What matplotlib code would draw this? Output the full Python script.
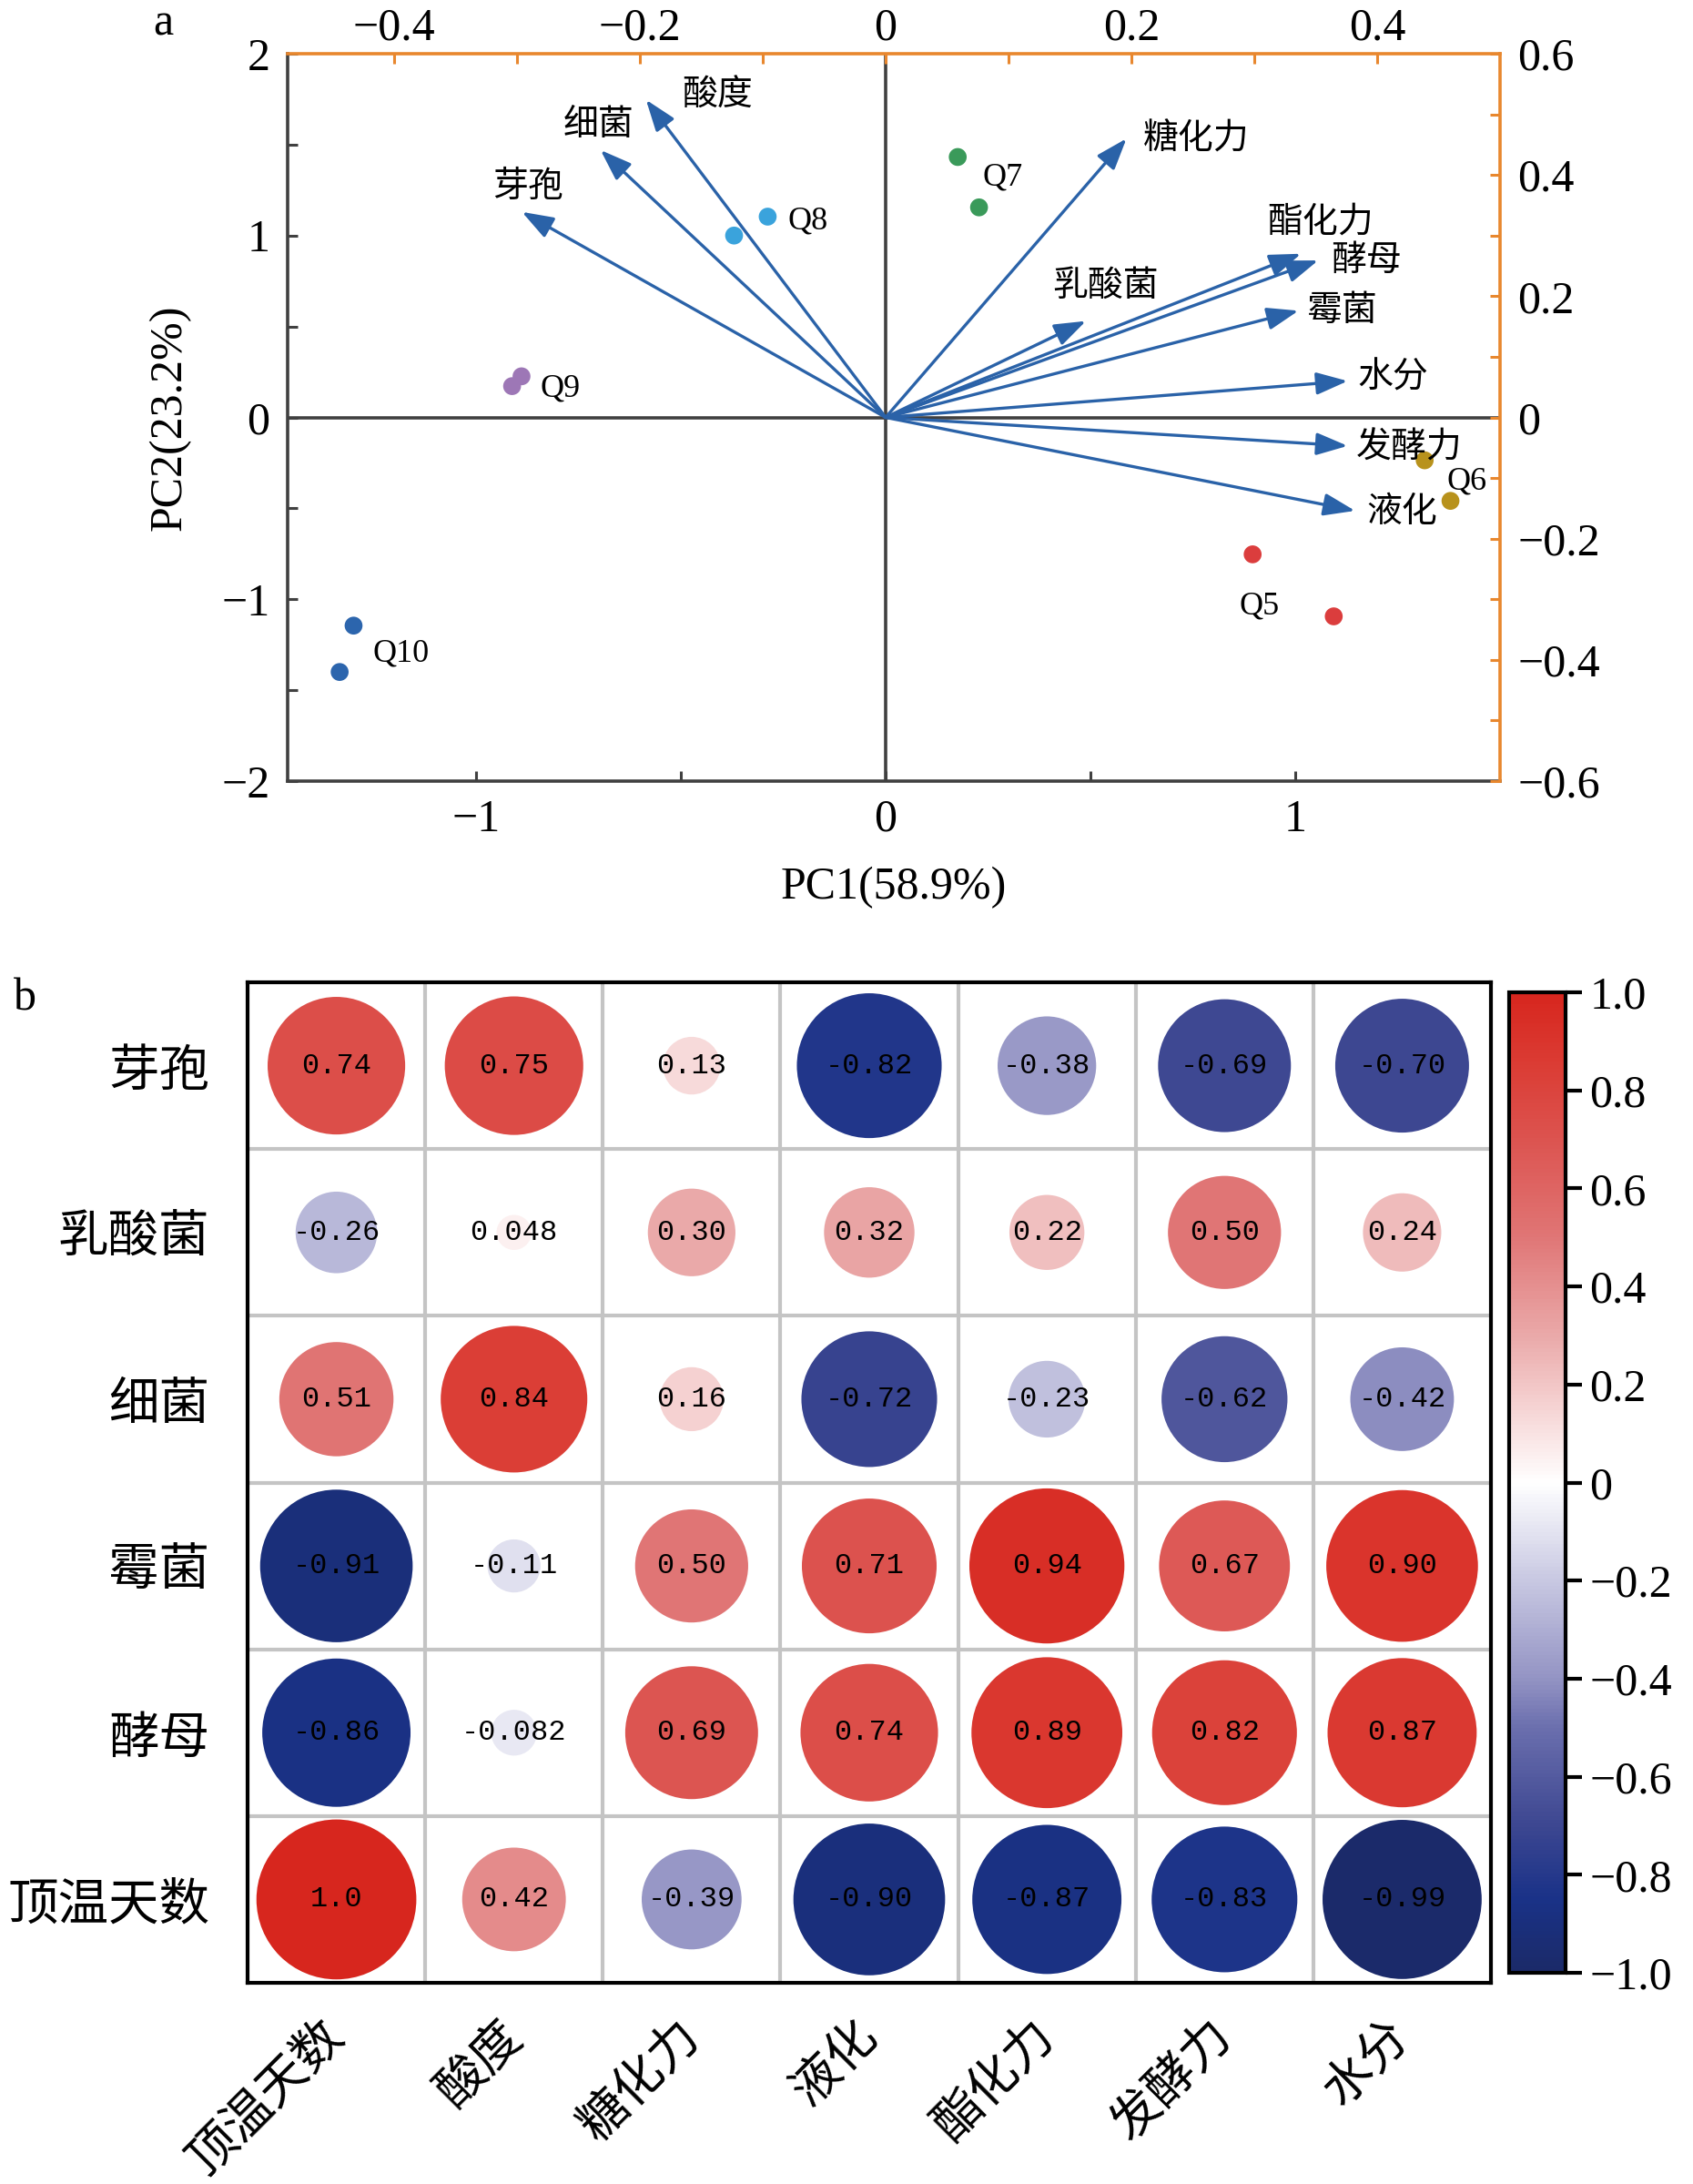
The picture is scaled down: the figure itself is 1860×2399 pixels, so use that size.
import matplotlib
matplotlib.use("Agg")
import matplotlib.pyplot as plt
import numpy as np
from matplotlib.colors import LinearSegmentedColormap

SERIF = ['Liberation Serif', 'Noto Sans CJK SC']
CJK = ['Noto Sans CJK SC', 'DejaVu Sans']
plt.rcParams['font.family'] = SERIF

# ---- panel a: PCA biplot data ----
samples = ['Q5', 'Q6', 'Q7', 'Q8', 'Q9', 'Q10']
sample_colors = ['#db3d3d', '#b8921c', '#3a9a5a', '#3aa3dc', '#9d77b6', '#2c65ad']
score_x = [[0.896, 1.094], [1.316, 1.379], [0.176, 0.228],
           [-0.370, -0.288], [-0.912, -0.889], [-1.299, -1.333]]
score_y = [[-0.753, -1.094], [-0.236, -0.459], [1.432, 1.155],
           [1.00, 1.104], [0.172, 0.226], [-1.145, -1.400]]
sample_label_x = [0.864, 1.370, 0.236, -0.238, -0.844, -1.252]
sample_label_y = [-1.04, -0.354, 1.32, 1.08, 0.16, -1.30]

variables = ['芽孢', '细菌', '酸度', '糖化力', '酯化力', '酵母', '乳酸菌', '霉菌', '水分', '发酵力', '液化']
load_x = [-0.296, -0.232, -0.195, 0.196, 0.338, 0.352, 0.163, 0.336, 0.376, 0.376, 0.382]
load_y = [0.339, 0.441, 0.524, 0.460, 0.270, 0.259, 0.159, 0.176, 0.060, -0.047, -0.154]
var_label_x = [-0.291, -0.234, -0.137, 0.253, 0.354, 0.391, 0.179, 0.372, 0.413, 0.426, 0.420]
var_label_y = [0.381, 0.483, 0.531, 0.459, 0.323, 0.259, 0.217, 0.176, 0.066, -0.049, -0.156]

# ---- panel b: correlation data ----
row_names = ['芽孢', '乳酸菌', '细菌', '霉菌', '酵母', '顶温天数']
col_names = ['顶温天数', '酸度', '糖化力', '液化', '酯化力', '发酵力', '水分']
corr = np.array([
    [0.74, 0.75, 0.13, -0.82, -0.38, -0.69, -0.70],
    [-0.26, 0.048, 0.30, 0.32, 0.22, 0.50, 0.24],
    [0.51, 0.84, 0.16, -0.72, -0.23, -0.62, -0.42],
    [-0.91, -0.11, 0.50, 0.71, 0.94, 0.67, 0.90],
    [-0.86, -0.082, 0.69, 0.74, 0.89, 0.82, 0.87],
    [1.0, 0.42, -0.39, -0.90, -0.87, -0.83, -0.99],
])

W, H = 1860, 2399
fig = plt.figure(figsize=(W / 100, H / 100), dpi=100)

GRAY = '#404040'
ORANGE = '#E8872E'
ARROW = '#2a62a8'

# main axes (scores, bottom/left)
rect_a = [316 / W, 1 - 858 / H, (1648 - 316) / W, (858 - 59) / H]
ax = fig.add_axes(rect_a)
ax.set_xlim(-1.46, 1.5)
ax.set_ylim(-2, 2)
ax.set_xticks([-1, 0, 1])
ax.set_xticks([-0.5, 0.5], minor=True)
ax.set_yticks([-2, -1, 0, 1, 2])
ax.set_yticks([-1.5, -0.5, 0.5, 1.5], minor=True)
ax.set_xticklabels(['\u22121', '0', '1'])
ax.set_yticklabels(['\u22122', '\u22121', '0', '1', '2'])
ax.tick_params(which='both', direction='in', length=8, width=2.2, color=GRAY,
               labelsize=36, top=False, right=False, pad=14)
for s in ['left', 'bottom']:
    ax.spines[s].set_color(GRAY)
    ax.spines[s].set_linewidth(2.6)
for s in ['top', 'right']:
    ax.spines[s].set_visible(False)
ax.axhline(0, color=GRAY, lw=2.6, zorder=1)
ax.axvline(0, color=GRAY, lw=2.6, zorder=1)
ax.set_xlabel('PC1(58.9%)', fontsize=36, labelpad=20)
ax.set_ylabel('PC2(23.2%)', fontsize=36, labelpad=24)

for i, name in enumerate(samples):
    ax.scatter(score_x[i], score_y[i], s=200, color=sample_colors[i], edgecolors='none', zorder=4)
    ax.text(sample_label_x[i], sample_label_y[i], name, fontsize=26, ha='left', va='center', zorder=5)

# loadings axes (top/right)
ax2 = fig.add_axes(rect_a, frameon=True)
ax2.patch.set_visible(False)
ax2.set_xlim(-1.46 / 3, 1.5 / 3)
ax2.set_ylim(-0.6, 0.6)
ax2.xaxis.tick_top()
ax2.yaxis.tick_right()
ax2.set_xticks([-0.4, -0.2, 0, 0.2, 0.4])
ax2.set_xticks([-0.3, -0.1, 0.1, 0.3], minor=True)
ax2.set_yticks([-0.6, -0.4, -0.2, 0, 0.2, 0.4, 0.6])
ax2.set_yticks([-0.5, -0.3, -0.1, 0.1, 0.3, 0.5], minor=True)
ax2.set_xticklabels(['\u22120.4', '\u22120.2', '0', '0.2', '0.4'])
ax2.set_yticklabels(['\u22120.6', '\u22120.4', '\u22120.2', '0', '0.2', '0.4', '0.6'])
ax2.tick_params(which='both', direction='in', length=8, width=2.2, color=ORANGE,
                labelsize=36, pad=14)
ax2.tick_params(axis='x', pad=3)
for s in ['left', 'bottom']:
    ax2.spines[s].set_visible(False)
for s in ['top', 'right']:
    ax2.spines[s].set_color(ORANGE)
    ax2.spines[s].set_linewidth(2.6)

for i, name in enumerate(variables):
    ax2.annotate('', xy=(load_x[i], load_y[i]), xytext=(0, 0),
                 arrowprops=dict(arrowstyle='-|>,head_length=0.7,head_width=0.25',
                                 mutation_scale=30, lw=2.4, color=ARROW,
                                 shrinkA=0, shrinkB=0), zorder=3)
    ax2.text(var_label_x[i], var_label_y[i], name, family=CJK, fontsize=28,
             ha='center', va='center', zorder=5)

fig.text(179 / W, 1 - 26 / H, 'a', fontsize=36, ha='center', va='center')
fig.text(27 / W, 1 - 1097 / H, 'b', fontsize=36, ha='center', va='center')

# ---- panel b ----
cmap = LinearSegmentedColormap.from_list('corr', [
    (0.0, '#1b2a68'), (0.075, '#1a3288'), (0.15, '#3d4791'), (0.25, '#6b6fae'),
    (0.3, '#9494c4'), (0.4, '#c8c8e2'), (0.5, '#ffffff'), (0.6, '#f2c6c6'),
    (0.65, '#eaa9a9'), (0.75, '#e07676'), (0.85, '#dc5450'), (0.925, '#db3d35'),
    (1.0, '#d7261e')])

axh = fig.add_axes([272 / W, 1 - 2178 / H, (1638 - 272) / W, (2178 - 1079) / H])
nr, nc = corr.shape
xx, yy = np.meshgrid(np.arange(nc), np.arange(nr))
sc = axh.scatter(xx.ravel(), yy.ravel(), s=16000 * np.abs(corr.ravel()), c=corr.ravel(),
                 cmap=cmap, vmin=-1, vmax=1, edgecolors='none', zorder=2)
for r in range(nr):
    for c in range(nc):
        v = corr[r, c]
        txt = f'{v:.2f}' if abs(v) >= 0.1 else f'{v:.3f}'.rstrip('0')
        if v == 1.0:
            txt = '1.0'
        axh.text(c, r, txt, family=['Liberation Mono'], fontsize=23,
                 ha='center', va='center', zorder=3)
for k in range(1, nc):
    axh.axvline(k - 0.5, color='#c4c4c4', lw=3, zorder=1)
for k in range(1, nr):
    axh.axhline(k - 0.5, color='#c4c4c4', lw=3, zorder=1)
axh.set_xlim(-0.5, nc - 0.5)
axh.set_ylim(nr - 0.5, -0.5)
axh.set_xticks(range(nc))
axh.set_yticks(range(nr))
axh.set_xticklabels(col_names, family=CJK, fontsize=39, rotation=45,
                    ha='right', va='center', rotation_mode='anchor')
axh.set_yticklabels(row_names, family=CJK, fontsize=40)
axh.tick_params(length=0)
axh.tick_params(axis='y', pad=30)
axh.tick_params(axis='x', pad=36)
for s in axh.spines.values():
    s.set_linewidth(3)
    s.set_color('black')

cax = fig.add_axes([1658 / W, 1 - 2167 / H, 62 / W, (2167 - 1090) / H])
cb = fig.colorbar(sc, cax=cax)
cb_ticks = [-1.0, -0.8, -0.6, -0.4, -0.2, 0, 0.2, 0.4, 0.6, 0.8, 1.0]
cb.set_ticks(cb_ticks)
cb.set_ticklabels(['\u22121.0', '\u22120.8', '\u22120.6', '\u22120.4', '\u22120.2', '0',
                   '0.2', '0.4', '0.6', '0.8', '1.0'])
cb.ax.tick_params(direction='out', length=13, width=3, labelsize=36, pad=6)
cb.outline.set_linewidth(3)

fig.savefig('out.png', dpi=100)
